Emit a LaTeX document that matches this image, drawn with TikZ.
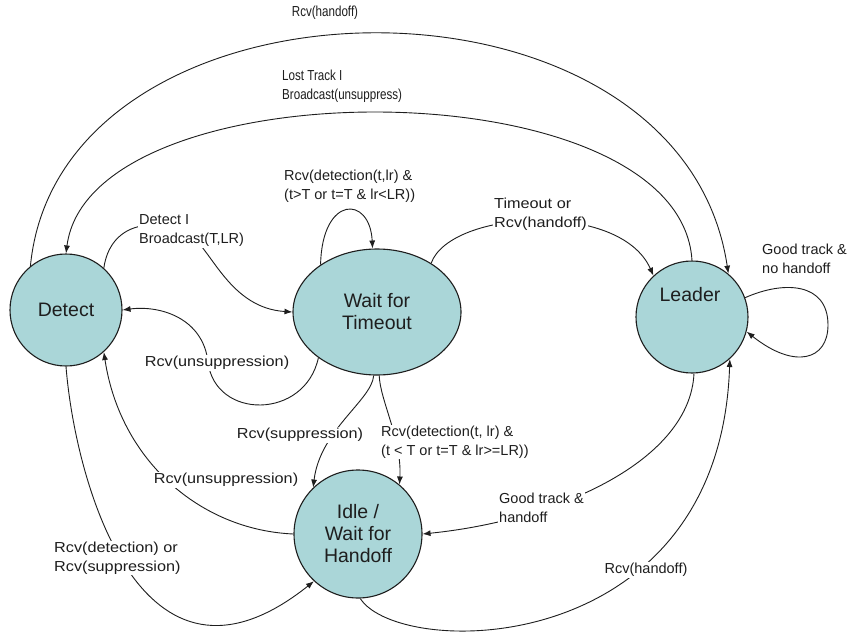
\documentclass[tikz,border=0pt]{standalone}
\usepackage{fontspec}
\setmainfont{Liberation Sans}
\newfontfamily\lblN[FakeStretch=0.8]{Liberation Sans}
\newfontfamily\lblM{Liberation Sans}
\newfontfamily\lblW[FakeStretch=1.12]{Liberation Sans}
\usetikzlibrary{arrows.meta,shapes.geometric}
\definecolor{statefill}{RGB}{170,214,216}
\definecolor{ink}{RGB}{30,30,30}
\begin{document}
\begin{tikzpicture}[x=1pt,y=-1pt,
  state/.style={circle, draw=ink, line width=1.1pt, fill=statefill, minimum size=112pt,
    inner sep=0pt, font=\fontsize{19.5}{22}\selectfont, text=ink, align=center},
  stext/.style={inner sep=0pt, font=\fontsize{19.5}{22}\selectfont, text=ink},
  edge/.style={draw=ink, line width=0.9pt},
  arr/.style={edge, -{Latex[length=8pt,width=6pt]}},
  lbl/.style={fill=white, inner sep=1pt, text=ink, align=left},
  lblm/.style={lbl, font=\lblM\fontsize{14.5}{19}\selectfont},
  lbln/.style={lbl, font=\lblN\fontsize{14.5}{19}\selectfont},
  lblw/.style={lbl, font=\lblW\fontsize{14.5}{19}\selectfont}]
\useasboundingbox[fill=white] (0,0) rectangle (847,635);

% states
\node[state] (detect) at (66,310) {Detect};
\node[state, ellipse, minimum width=168pt, minimum height=126pt] (wait) at (377,312) {Wait for\\Timeout};
\node[state] (leader) at (692,317) {};
\node[stext] (leadertext) at (690,295) {Leader};
\node[state, minimum size=128pt] (idle) at (358,534) {Idle /\\Wait for\\Handoff};

% connectors
\draw[arr] (detect.129) .. controls (60,-40) and (680,-50) .. (leader.50);
\draw[arr] (leader.90) .. controls (680,65) and (90,65) .. (detect.90);
\coordinate (dmid) at (190,235);
\draw[arr] (detect.48) .. controls (110,225) and (150,215) .. (dmid)
  .. controls (212,250) and (230,308) .. (wait.west);
\coordinate (umid) at (208,362);
\draw[arr] (wait.218) .. controls (305,420) and (215,420) .. (umid)
  .. controls (203,318) and (160,305) .. (detect.east);
\draw[arr] (wait.140) .. controls (322,195) and (370,195) .. (wait.94);
\draw[arr] (wait.42) .. controls (450,210) and (620,200) .. (leader.133);
\coordinate (lpt) at (828,325);
\draw[arr] (leader.20) .. controls (785,280) and (828,283) .. (lpt)
  .. controls (828,360) and (795,370) .. (leader.-15);
\draw[arr] (leader.-88) .. controls (690,460) and (560,520) .. (idle.east);
\draw[arr] (idle.-88) .. controls (400,660) and (720,660) .. (leader.-48);
\draw[arr] (wait.-88) .. controls (380,400) and (402,440) .. (idle.50);
\draw[arr] (wait.-93) .. controls (372,400) and (320,430) .. (idle.134);
\draw[arr] (idle.west) .. controls (200,530) and (120,460) .. (detect.-48);
\draw[arr] (detect.south) .. controls (75,480) and (140,720) .. (idle.-133);

% labels
\node[lbln] (l1) at (325,13) {Rcv(handoff)};
\node[lbln, anchor=west] (l2) at (281,86) {Lost Track I\\Broadcast(unsuppress)};
\node[lblm, anchor=west] (l3) at (138,231) {Detect I\\Broadcast(T,LR)};
\node[lblm, anchor=west] (l4) at (283,186) {Rcv(detection(t,lr) \&\\(t>T or t=T \& lr<LR))};
\node[lblw, anchor=west] (l5) at (493,214) {Timeout or\\Rcv(handoff)};
\node[lblm, anchor=west] (l6) at (761,259) {Good track \&\\no handoff};
\node[lblw] (l7) at (217,363) {Rcv(unsuppression)};
\node[lblw] (l8) at (300,435) {Rcv(suppression)};
\node[lblm, anchor=west] (l9) at (380,442) {Rcv(detection(t, lr) \&\\(t < T or t=T \& lr>=LR))};
\node[lblw] (l10) at (226,480) {Rcv(unsuppression)};
\node[lblm, anchor=west] (l11) at (498,508) {Good track \&\\handoff};
\node[lblw, anchor=west] (l12) at (53,558) {Rcv(detection) or\\Rcv(suppression)};
\node[lblm] (l13) at (646,570) {Rcv(handoff)};
\end{tikzpicture}
\end{document}
